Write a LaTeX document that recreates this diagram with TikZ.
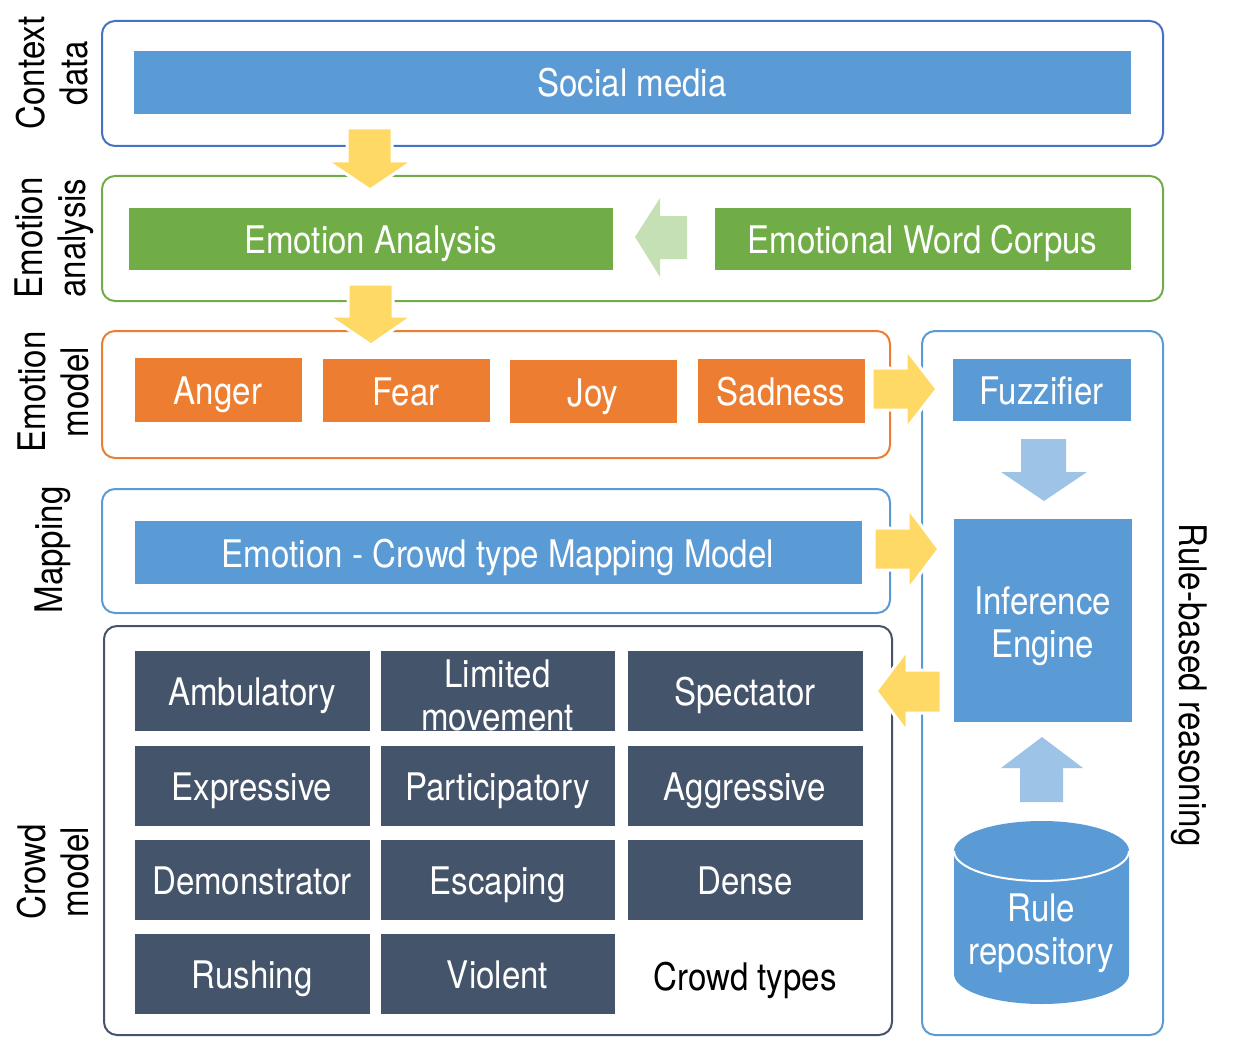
\documentclass[tikz,border=0pt]{standalone}
\usepackage{fontspec}
\setmainfont{TeX Gyre Heros}[FakeStretch=0.87]
\definecolor{cblue}{HTML}{5B9BD5}
\definecolor{cdblue}{HTML}{4472C4}
\definecolor{cgreen}{HTML}{70AD47}
\definecolor{clgreen}{HTML}{C5E0B4}
\definecolor{corange}{HTML}{ED7D31}
\definecolor{cdark}{HTML}{44546A}
\definecolor{cyellow}{HTML}{FFD966}
\definecolor{clblue}{HTML}{9DC3E6}
\newcommand\fsz{\fontsize{38}{43}\selectfont}
\newcommand\bx[7]{%
 \pgfmathsetmacro\cx{(#2+#4)/2}\pgfmathsetmacro\cy{(#3+#5)/2}%
 \pgfmathsetmacro\ww{#4-#2}\pgfmathsetmacro\hh{#5-#3}%
 \node[#6, minimum width=\ww pt, minimum height=\hh pt] (#1) at (\cx,\cy) {#7};}
\begin{document}
\begin{tikzpicture}[x=1pt,y=-1pt,
  container/.style={draw, line width=2pt, rounded corners=13pt, inner sep=0pt},
  box/.style={draw=white, line width=0.8pt, text=white, inner sep=0pt, font=\fsz, align=center, text height=30pt, text depth=0pt},
  twotext/.style={font=\fsz, align=center, inner sep=0pt, text=white},
  sidelabel/.style={font=\fsz, align=center, inner sep=0pt, text=black},
  yarrow/.style={fill=cyellow, draw=white, line width=3pt, line join=miter},
  garrow/.style={fill=clgreen},
  barrow/.style={fill=clblue}]
\useasboundingbox (0,0) rectangle (1235,1038);
% containers
\bx{ctx}{102}{21}{1163}{146}{container, draw=cdblue}{}
\bx{ana}{102}{176}{1163}{301}{container, draw=cgreen}{}
\bx{emo}{102}{331}{890}{458}{container, draw=corange}{}
\bx{map}{102}{489}{890}{613}{container, draw=cblue}{}
\bx{crowd}{104}{626}{892}{1035}{container, draw=cdark}{}
\bx{rule}{922}{331}{1163}{1035}{container, draw=cblue}{}
% side labels
\node[sidelabel, rotate=90] (lctx) at (52,73) {Context\\data};
\node[sidelabel, rotate=90] (lana) at (54,238) {Emotion\\analysis};
\node[sidelabel, rotate=90] (lemo) at (53,392) {Emotion\\model};
\node[sidelabel, rotate=90] (lmap) at (53,550) {Mapping};
\node[sidelabel, rotate=90] (lcrowd) at (53,872) {Crowd\\model};
\node[sidelabel, rotate=-90] (lrule) at (1189,685) {Rule-based reasoning};
% inner boxes
\bx{social}{133}{50}{1131}{114}{box, fill=cblue}{Social media}
\bx{eana}{128}{207}{613}{270}{box, fill=cgreen}{Emotion Analysis}
\bx{corpus}{714}{207}{1131}{270}{box, fill=cgreen}{Emotional Word Corpus}
\bx{anger}{134}{357}{302}{422}{box, fill=corange}{Anger}
\bx{fear}{322}{358}{490}{422}{box, fill=corange}{Fear}
\bx{joy}{509}{359}{677}{423}{box, fill=corange}{Joy}
\bx{sad}{697}{358}{865}{423}{box, fill=corange}{Sadness}
\bx{mapm}{134}{520}{862}{584}{box, fill=cblue}{Emotion - Crowd type Mapping Model}
\bx{fuzz}{952}{358}{1131}{421}{box, fill=cblue}{Fuzzifier}
\bx{inf}{953}{518}{1132}{722}{box, fill=cblue}{}
\node[twotext] (inft) at ([yshift=-6pt]inf.center) {Inference\\Engine};
% crowd types
\bx{amb}{134}{650}{370}{731}{box, fill=cdark}{Ambulatory}
\bx{lim}{380}{650}{615}{731}{box, fill=cdark}{}
\node[twotext] (limt) at ([yshift=-5pt]lim.center) {Limited\\movement};
\bx{spe}{627}{650}{863}{731}{box, fill=cdark}{Spectator}
\bx{exp}{134}{745}{370}{826}{box, fill=cdark}{Expressive}
\bx{par}{380}{745}{615}{826}{box, fill=cdark}{Participatory}
\bx{agg}{627}{745}{863}{826}{box, fill=cdark}{Aggressive}
\bx{dem}{134}{839}{370}{920}{box, fill=cdark}{Demonstrator}
\bx{esc}{380}{839}{615}{920}{box, fill=cdark}{Escaping}
\bx{den}{627}{839}{863}{920}{box, fill=cdark}{Dense}
\bx{rus}{134}{933}{370}{1014}{box, fill=cdark}{Rushing}
\bx{vio}{380}{933}{615}{1014}{box, fill=cdark}{Violent}
\node[sidelabel, text height=30pt, text depth=0pt] (ctypes) at (745,975) {Crowd types};
% cylinder
\fill[cblue] (954,851) -- (954,974) arc[start angle=180,end angle=360,x radius=87.5pt,y radius=30pt] -- (1129,851) arc[start angle=0,end angle=180,x radius=87.5pt,y radius=30pt] -- cycle;
\draw[white, line width=2pt] (954,851) arc[start angle=180,end angle=360,x radius=87.5pt,y radius=30pt];
\node[sidelabel, text=white] (repo) at (1041.5,933) {Rule\\repository};
% block arrows
\filldraw[yarrow] (347,128) -- (392,128) -- (392,161) -- (413,161) -- (370,190) -- (327,161) -- (347,161) -- cycle;
\filldraw[yarrow] (348,284) -- (393,284) -- (393,316) -- (413,316) -- (371,345) -- (328,316) -- (348,316) -- cycle;
\fill[garrow] (687,216) -- (687,259) -- (660,259) -- (660,277) -- (635,237) -- (660,198) -- (660,216) -- cycle;
\filldraw[yarrow] (872,368) -- (906,368) -- (906,349) -- (937,389) -- (906,429) -- (906,410) -- (872,410) -- cycle;
\filldraw[yarrow] (874,528) -- (908,528) -- (908,508) -- (939,549) -- (908,590) -- (908,570) -- (874,570) -- cycle;
\filldraw[yarrow] (941,670) -- (907,670) -- (907,650) -- (876,691) -- (907,732) -- (907,713) -- (941,713) -- cycle;
\fill[barrow] (1021,439) -- (1066,439) -- (1066,472) -- (1087,472) -- (1044,501) -- (1001,472) -- (1021,472) -- cycle;
\fill[barrow] (1020,802) -- (1063,802) -- (1063,768) -- (1083,768) -- (1042,737) -- (1001,768) -- (1020,768) -- cycle;
\end{tikzpicture}
\end{document}
